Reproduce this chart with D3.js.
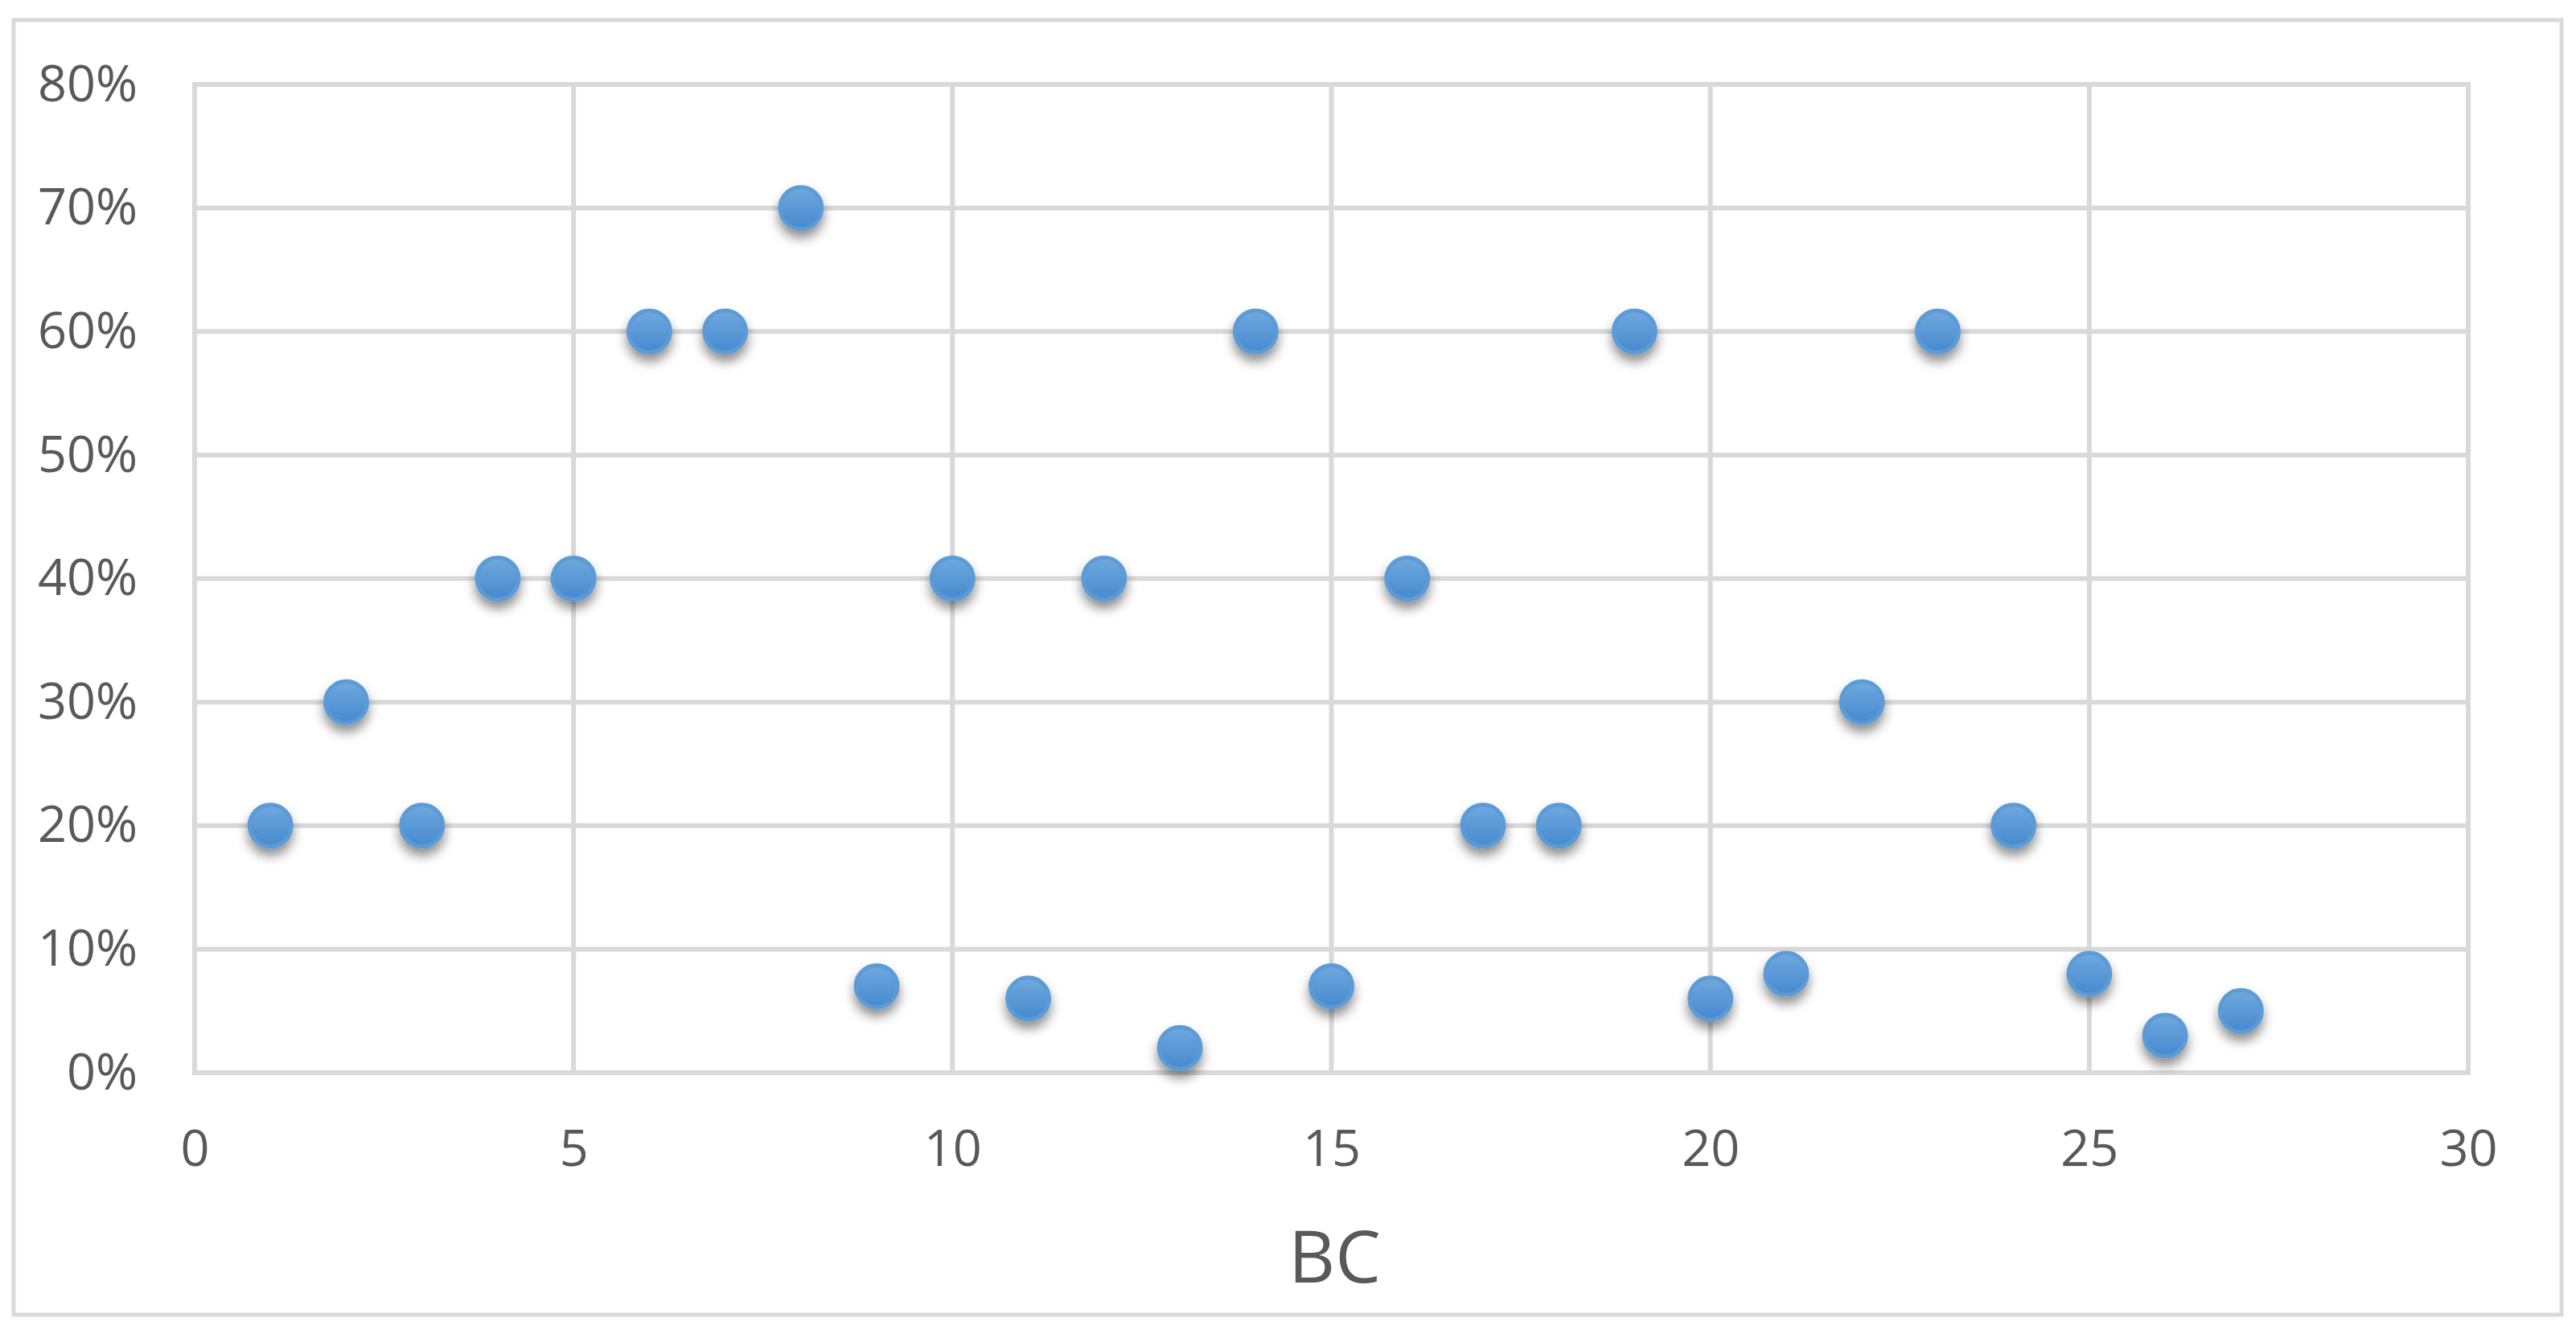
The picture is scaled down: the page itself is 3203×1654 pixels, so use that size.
<!DOCTYPE html>
<html>
<head>
<meta charset="utf-8">
<script src="https://cdn.jsdelivr.net/npm/d3@7"></script>
<style>
  body { margin: 0; background: #fff; }
  text { font-family: "Open Sans", sans-serif; fill: #595959; }
</style>
</head>
<body>
<div></div>
<script>
var width = 3203;
var height = 1654;
var margin = { top: 105, right: 133, bottom: 320, left: 242 };

// data
var bcValues = [1, 2, 3, 4, 5, 6, 7, 8, 9, 10, 11, 12, 13, 14, 15, 16, 17, 18, 19, 20, 21, 22, 23, 24, 25, 26, 27];
var shareValues = [0.20, 0.30, 0.20, 0.40, 0.40, 0.60, 0.60, 0.70, 0.07, 0.40, 0.06, 0.40, 0.02, 0.60, 0.07, 0.40, 0.20, 0.20, 0.60, 0.06, 0.08, 0.30, 0.60, 0.20, 0.08, 0.03, 0.05];
var xTicks = [0, 5, 10, 15, 20, 25, 30];
var yTicks = [0, 0.1, 0.2, 0.3, 0.4, 0.5, 0.6, 0.7, 0.8];
var xAxisLabel = "BC";

var data = bcValues.map((d, i) => ({ x: d, y: shareValues[i] }));

const svg = d3
  .select("div")
  .append("svg")
  .attr("width", width)
  .attr("height", height);

var defs = svg.append("defs");

var grad = defs
  .append("linearGradient")
  .attr("id", "dotFill")
  .attr("x1", 0).attr("y1", 0)
  .attr("x2", 0).attr("y2", 1);
grad.append("stop").attr("offset", "0%").attr("stop-color", "#6fa9de");
grad.append("stop").attr("offset", "100%").attr("stop-color", "#4689cf");

var shadow = defs
  .append("filter")
  .attr("id", "dotShadow")
  .attr("x", "-60%").attr("y", "-60%")
  .attr("width", "220%").attr("height", "240%");
shadow
  .append("feDropShadow")
  .attr("dx", 0)
  .attr("dy", 9)
  .attr("stdDeviation", 7)
  .attr("flood-color", "#000")
  .attr("flood-opacity", 0.45);

// outer chart border
svg
  .append("rect")
  .attr("x", 17)
  .attr("y", 25)
  .attr("width", 3168)
  .attr("height", 1610)
  .attr("fill", "none")
  .attr("stroke", "#d9d9d9")
  .attr("stroke-width", 5);

var x = d3
  .scaleLinear()
  .domain([0, 30])
  .range([margin.left, width - margin.right - 1]);

var y = d3
  .scaleLinear()
  .domain([0, 0.8])
  .range([height - margin.bottom, margin.top]);

// gridlines
var grid = svg.append("g").attr("stroke", "#d9d9d9").attr("stroke-width", 6);
grid
  .append("g")
  .selectAll("line")
  .data(xTicks)
  .join("line")
  .attr("x1", (d) => x(d))
  .attr("x2", (d) => x(d))
  .attr("y1", y(0.8))
  .attr("y2", y(0));
grid
  .append("g")
  .selectAll("line")
  .data(yTicks)
  .join("line")
  .attr("x1", x(0) - 3)
  .attr("x2", x(30) + 3)
  .attr("y1", (d) => y(d))
  .attr("y2", (d) => y(d));

// axes (labels only)
var xAxis = (g) =>
  g
    .attr("transform", `translate(0,${y(0)})`)
    .call(d3.axisBottom(x).tickValues(xTicks).tickSize(0).tickPadding(71))
    .call((g) => g.select(".domain").remove())
    .call((g) => g.selectAll("text").attr("font-size", 63).attr("font-family", null).attr("fill", null));

var yAxis = (g) =>
  g
    .attr("transform", `translate(${x(0)},0)`)
    .call(d3.axisLeft(y).tickValues(yTicks).tickSize(0).tickPadding(71).tickFormat(d3.format(".0%")))
    .call((g) => g.select(".domain").remove())
    .call((g) => g.selectAll("text").attr("font-size", 63).attr("font-family", null).attr("fill", null));

svg.append("g").call(xAxis);
svg.append("g").call(yAxis);

// axis title
svg
  .append("text")
  .attr("x", (x(0) + x(30)) / 2 + 4)
  .attr("y", 1595)
  .attr("text-anchor", "middle")
  .attr("font-size", 90)
  .text(xAxisLabel);

// the dots
svg
  .append("g")
  .selectAll("circle")
  .data(data)
  .join("circle")
  .attr("cx", (d) => x(d.x))
  .attr("cy", (d) => y(d.y))
  .attr("r", 26)
  .attr("fill", "url(#dotFill)")
  .attr("stroke", "#5b9bd5")
  .attr("stroke-width", 5)
  .attr("filter", "url(#dotShadow)");
</script>
</body>
</html>
